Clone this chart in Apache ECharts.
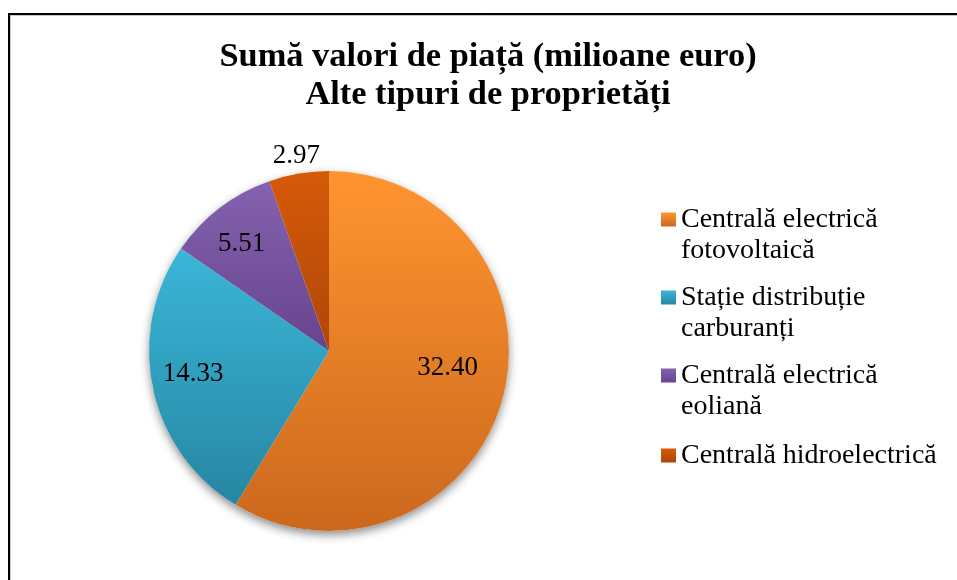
<!DOCTYPE html>
<html>
<head>
<meta charset="utf-8">
<script src="https://cdn.jsdelivr.net/npm/echarts@6/dist/echarts.min.js"></script>
<style>
html,body{margin:0;padding:0;background:#fff;}
#chart{width:957px;height:580px;}
</style>
</head>
<body>
<div id="chart"></div>
<script>
const titleLines = ['Sumă valori de piață (milioane euro)', 'Alte tipuri de proprietăți'];
const categories = ['Centrală electrică fotovoltaică', 'Stație distribuție carburanți', 'Centrală electrică eoliană', 'Centrală hidroelectrică'];
const legendLabels = ['Centrală electrică\nfotovoltaică', 'Stație distribuție\ncarburanți', 'Centrală electrică\neoliană', 'Centrală hidroelectrică'];
const values = [32.40, 14.33, 5.51, 2.97];

const colorTop = ['#FF9530', '#3BB6D8', '#8462AE', '#D65A08'];
const colorBottom = ['#CB681D', '#2686A2', '#66448E', '#AE4609'];
const labelShift = [[29, -8], [-45, 4], [-31, -33], [-17, -103]];

const serif = '"Liberation Serif", "DejaVu Serif", serif';
const total = values.reduce((a, b) => a + b, 0);

function grad(i) {
  return new echarts.graphic.LinearGradient(0, 0, 0, 1, [
    { offset: 0, color: colorTop[i] },
    { offset: 1, color: colorBottom[i] }
  ]);
}

const chart = echarts.init(document.getElementById('chart'), null, { renderer: 'canvas' });
const pieData = categories.map((c, i) => ({
  name: c,
  value: values[i],
  itemStyle: { color: grad(i) }
}));
// leading blank line keeps the first text line level with the legend square
const legendFmtTwo = name => '\u00a0\n' + legendLabels[categories.indexOf(name)];
const legendFmtOne = name => legendLabels[categories.indexOf(name)];

chart.setOption({
  backgroundColor: '#fff',
  animation: false,
  graphic: [
    { type: 'rect', shape: { x: 10.5, y: 15.5, width: 1200, height: 1200 }, style: { fill: 'none', stroke: '#c8c8c8', lineWidth: 1 }, z: 0 },
    { type: 'rect', shape: { x: 9, y: 14, width: 1200, height: 1200 }, style: { fill: 'none', stroke: '#000', lineWidth: 2 }, z: 1 }
  ],
  title: {
    text: titleLines.join('\n'),
    left: 488,
    top: 38,
    textAlign: 'center',
    padding: 0,
    textStyle: { fontFamily: serif, fontWeight: 'bold', fontSize: 34.4, lineHeight: 38, color: '#000' }
  },
  legend: [
    {
      data: categories.slice(0, 3),
      orient: 'vertical',
      left: 661,
      top: 173,
      padding: 0,
      itemWidth: 15,
      itemHeight: 14,
      itemGap: -15,
      icon: 'rect',
      formatter: legendFmtTwo,
      textStyle: { fontFamily: serif, fontSize: 28, lineHeight: 31, color: '#000' }
    },
    {
      data: categories.slice(3),
      orient: 'vertical',
      left: 661,
      top: 440,
      padding: 0,
      itemWidth: 15,
      itemHeight: 14,
      icon: 'rect',
      formatter: legendFmtOne,
      textStyle: { fontFamily: serif, fontSize: 28, lineHeight: 31, color: '#000' }
    }
  ],
  series: [
    {
      type: 'pie',
      silent: true,
      center: [329, 351],
      radius: 180,
      z: 1,
      label: { show: false },
      labelLine: { show: false },
      itemStyle: { color: '#fff', shadowBlur: 10, shadowOffsetY: 4, shadowColor: 'rgba(0,0,0,0.45)' },
      data: [{ name: '_shadow', value: total }]
    },
    {
      type: 'pie',
      center: [329, 351],
      radius: 180,
      startAngle: 90,
      clockwise: true,
      z: 2,
      avoidLabelOverlap: false,
      label: {
        show: true,
        position: 'inside',
        formatter: p => p.value.toFixed(2),
        fontFamily: serif,
        fontSize: 27,
        color: '#000'
      },
      labelLine: { show: false },
      labelLayout: p => ({ dx: labelShift[p.dataIndex][0], dy: labelShift[p.dataIndex][1] }),
      emphasis: { disabled: true },
      data: pieData
    }
  ]
});
</script>
</body>
</html>
